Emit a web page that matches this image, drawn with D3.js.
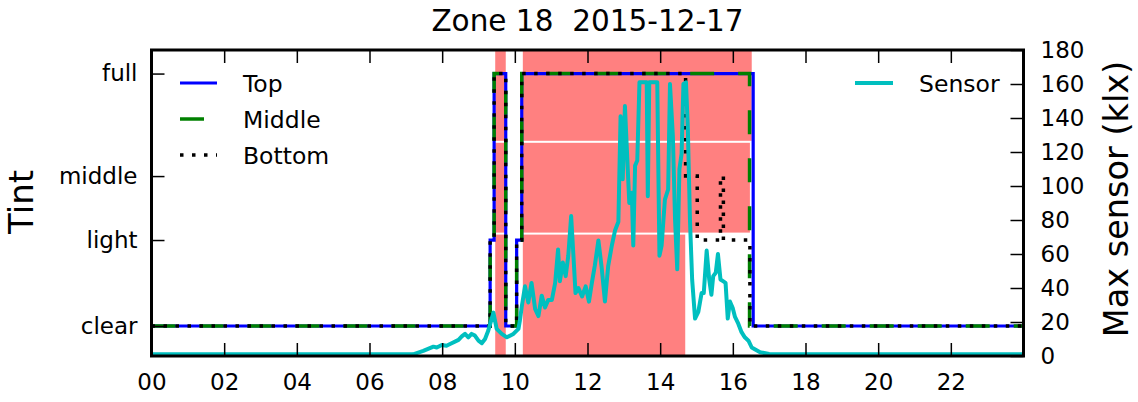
<!DOCTYPE html>
<html><head><meta charset="utf-8">
<script src="https://cdn.jsdelivr.net/npm/d3@7"></script>
<style>
body{margin:0;background:#fff}
svg text{font-family:"DejaVu Sans",sans-serif;fill:#000}
</style>
</head><body>
<svg id="c" width="1138" height="402"></svg>
<script>
// ---------------- data ----------------
const chartTitle = "Zone 18  2015-12-17";
const leftLabel = "Tint";
const rightLabel = "Max sensor (klx)";

const tintLevelNames = ["clear", "light", "middle", "full"];
const tintLevelValues = [0.098, 0.379, 0.588, 0.923];   // position on the tint axis (0..1)

const xTickHours = [0, 2, 4, 6, 8, 10, 12, 14, 16, 18, 20, 22];
const xTickLabels = ["00", "02", "04", "06", "08", "10", "12", "14", "16", "18", "20", "22"];
const sensorTicks = [0, 20, 40, 60, 80, 100, 120, 140, 160, 180];

// tint schedules (hour of change, new level)
const topTimes   = [0, 9.32, 9.43, 9.75, 10.05, 10.19, 16.56];
const topLevels  = ["clear", "light", "full", "clear", "light", "full", "clear"];
const midTimes   = [0, 9.32, 9.43, 9.75, 10.05, 10.19, 16.46];
const midLevels  = ["clear", "light", "full", "clear", "light", "full", "clear"];
const botTimes   = [0, 9.32, 9.43, 9.75, 10.05, 10.19, 14.70, 15.02, 15.66, 15.74, 16.47];
const botLevels  = ["clear", "light", "full", "clear", "light", "full", "middle", "light", "middle", "light", "clear"];

// zones of the window (fraction of the tint axis) and their shaded (glare) intervals
const zoneNames  = ["top", "middle", "bottom"];
const zoneLow    = [0.70, 0.40, 0.00];
const zoneHigh   = [1.00, 0.70, 0.40];
const topZoneSpans    = [[9.46, 9.75], [10.22, 16.52]];
const middleZoneSpans = [[9.46, 9.75], [10.22, 16.47]];
const bottomZoneSpans = [[9.46, 9.75], [10.22, 14.69]];

// max sensor reading (klx)
const sensorHours = [0, 7.2, 7.48, 7.76, 7.85, 7.99, 8.12, 8.26, 8.45, 8.54, 8.63, 8.72, 8.81, 8.9, 9.0, 9.09, 9.18, 9.27, 9.41, 9.5, 9.64, 9.78, 9.96, 10.1, 10.14, 10.19, 10.28, 10.37, 10.46, 10.56, 10.65, 10.74, 10.83, 10.92, 11.02, 11.11, 11.19, 11.24, 11.32, 11.40, 11.47, 11.55, 11.61, 11.67, 11.75, 11.85, 11.95, 12.04, 12.12, 12.2, 12.3, 12.39, 12.48, 12.57, 12.67, 12.76, 12.85, 12.91, 12.97, 13.03, 13.15, 13.22, 13.26, 13.31, 13.37, 13.43, 13.63, 13.66, 13.70, 13.92, 13.98, 14.04, 14.13, 14.22, 14.27, 14.35, 14.41, 14.47, 14.53, 14.59, 14.64, 14.71, 14.76, 14.82, 14.88, 14.96, 15.05, 15.14, 15.2, 15.28, 15.35, 15.41, 15.46, 15.53, 15.59, 15.66, 15.73, 15.8, 15.86, 15.92, 16.0, 16.06, 16.15, 16.24, 16.33, 16.43, 16.52, 16.75, 17.0, 24];
const sensorKlx   = [1, 1, 3, 5.5, 5, 6.5, 6, 7.5, 9.5, 11.5, 13, 11, 13, 12, 9, 7.5, 10, 15, 25.5, 16, 13, 11, 13, 16, 21, 29, 41, 31.5, 43, 27.5, 23.5, 35.5, 28.5, 33, 33, 43, 62.7, 44, 55, 47, 58.8, 82.3, 60, 37, 40, 35, 41, 32, 43, 53, 68, 52, 32, 53, 65, 74, 79, 141, 104, 147, 90, 96, 65, 112, 115, 161, 161, 94, 161, 161, 59, 65, 92, 98, 160, 129, 80, 51, 110, 119, 160, 161, 135, 80, 45, 22, 26, 37, 37, 62, 45, 36, 47, 49, 60, 45, 44, 43, 22, 32, 28, 23, 19, 14, 11, 9, 5, 2.2, 1.2, 1];

// ---------------- drawing ----------------
const W = 1138, H = 402;
const L = 151.5, R = 1023.5, T = 50, B = 356;
const svg = d3.select("#c");
svg.append("rect").attr("width", W).attr("height", H).attr("fill", "#fff");

const x = d3.scaleLinear().domain([0, 24]).range([L, R]);
const yT = d3.scaleLinear().domain([0, 1]).range([B, T]);
const yS = d3.scaleLinear().domain([0, 180]).range([B, T]);
const tintVal = n => tintLevelValues[tintLevelNames.indexOf(n)];

svg.append("defs").append("clipPath").attr("id", "clip")
  .append("rect").attr("x", L).attr("y", T).attr("width", R - L).attr("height", B - T);
const plot = svg.append("g").attr("clip-path", "url(#clip)");

// shaded zones
const zoneSpans = [topZoneSpans, middleZoneSpans, bottomZoneSpans];
zoneNames.forEach((z, i) => {
  const y0 = yT(zoneHigh[i]) + (zoneHigh[i] < 1 ? 1 : 0);
  const y1 = yT(zoneLow[i]) - (zoneLow[i] > 0 ? 1 : 0);
  plot.selectAll(null).data(zoneSpans[i]).enter().append("rect")
    .attr("x", d => x(d[0])).attr("width", d => x(d[1]) - x(d[0]))
    .attr("y", y0).attr("height", y1 - y0)
    .attr("fill", "#ff8080");
});

function steps(times, levels) {
  const pts = times.map((t, i) => [t, levels[i]]);
  pts.push([24, levels[levels.length - 1]]);
  return pts;
}
const stepLine = d3.line().x(d => x(d[0])).y(d => yT(tintVal(d[1]))).curve(d3.curveStepAfter);

plot.append("path").attr("d", stepLine(steps(topTimes, topLevels)))
  .attr("fill", "none").attr("stroke", "#0000ff").attr("stroke-width", 3.2);
plot.append("path").attr("d", stepLine(steps(midTimes, midLevels)))
  .attr("fill", "none").attr("stroke", "#008000").attr("stroke-width", 3.5)
  .attr("stroke-dasharray", "24,24");
plot.append("path").attr("d", stepLine(steps(botTimes, botLevels)))
  .attr("fill", "none").attr("stroke", "#000").attr("stroke-width", 3.5)
  .attr("stroke-dasharray", "3.5,8.5");

const sensorLine = d3.line().x(d => x(d[0])).y(d => yS(d[1]));
plot.append("path").attr("d", sensorLine(sensorHours.map((h, i) => [h, sensorKlx[i]])))
  .attr("fill", "none").attr("stroke", "#00bfbf").attr("stroke-width", 4)
  .attr("stroke-linejoin", "round");

// axes
const fs = 23;
function styleAxis(g) {
  g.select(".domain").remove();
  g.selectAll(".tick line").attr("stroke", "#000").attr("stroke-width", 1.5);
  g.selectAll("text").attr("font-size", fs).attr("font-family", "DejaVu Sans").attr("fill", "#000");
}
svg.append("g").attr("transform", `translate(0,${B})`)
  .call(d3.axisBottom(x).tickValues(xTickHours).tickFormat((d, i) => xTickLabels[i]).tickSize(-13).tickPadding(18))
  .call(styleAxis);
svg.append("g").attr("transform", `translate(0,${T})`)
  .call(d3.axisTop(x).tickValues(xTickHours).tickFormat("").tickSize(-13))
  .call(styleAxis);
svg.append("g").attr("transform", `translate(${L},0)`)
  .call(d3.axisLeft(yT).tickValues(tintLevelValues).tickFormat((d, i) => tintLevelNames[i]).tickSize(-13).tickPadding(14))
  .call(styleAxis);
svg.append("g").attr("transform", `translate(${R},0)`)
  .call(d3.axisRight(yS).tickValues(sensorTicks).tickSize(-13).tickPadding(17))
  .call(styleAxis);

// frame
svg.append("rect").attr("x", L).attr("y", T).attr("width", R - L).attr("height", B - T)
  .attr("fill", "none").attr("stroke", "#000").attr("stroke-width", 3);

// titles
svg.append("text").attr("x", (L + R) / 2).attr("y", 31).attr("text-anchor", "middle")
  .attr("font-size", 29.5).style("white-space", "pre").text(chartTitle);
svg.append("text").attr("transform", "translate(33,202) rotate(-90)").attr("text-anchor", "middle")
  .attr("font-size", 34).text(leftLabel);
svg.append("text").attr("transform", "translate(1128,199) rotate(-90)").attr("text-anchor", "middle")
  .attr("font-size", 33.5).text(rightLabel);

// legends
const lfs = 23.5;
const legLeft = [
  {name: "Top", color: "#0000ff", dash: null, w: 3.2},
  {name: "Middle", color: "#008000", dash: "24,24", w: 3.5},
  {name: "Bottom", color: "#000", dash: "3.5,8.5", w: 3.5}
];
legLeft.forEach((d, i) => {
  const yy = 83 + i * 36;
  svg.append("line").attr("x1", 180).attr("x2", 217).attr("y1", yy).attr("y2", yy)
    .attr("stroke", d.color).attr("stroke-width", d.w).attr("stroke-dasharray", d.dash);
  svg.append("text").attr("x", 243).attr("y", yy + 8.5).attr("font-size", lfs).text(d.name);
});
svg.append("line").attr("x1", 855).attr("x2", 893).attr("y1", 83).attr("y2", 83)
  .attr("stroke", "#00bfbf").attr("stroke-width", 4);
svg.append("text").attr("x", 919).attr("y", 91.5).attr("font-size", lfs).text("Sensor");
</script>
</body></html>
